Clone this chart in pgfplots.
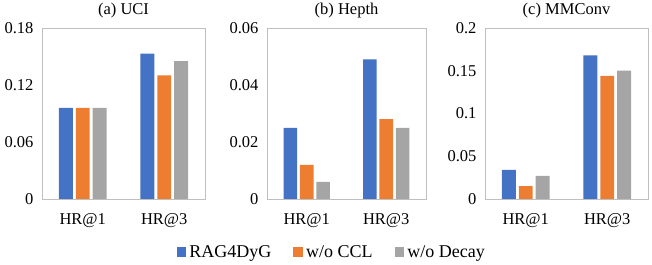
\documentclass[border=0pt]{standalone}
\usepackage{pgfplots}
\pgfplotsset{compat=1.18}
\usepackage{fontspec}
\setmainfont{Liberation Serif}
\definecolor{cblue}{HTML}{4472C4}
\definecolor{corange}{HTML}{ED7D31}
\definecolor{cgray}{HTML}{A5A5A5}
\definecolor{cframe}{HTML}{BFBFBF}
\pgfplotsset{
  myaxis/.style={
    scale only axis,
    height=171bp,
    ymin=0,
    xmin=-0.5, xmax=1.5,
    xtick={0,1}, xticklabels={HR@1,HR@3},
    scaled y ticks=false,
    axis line style={cframe, line width=0.9bp},
    major tick length=0pt,
    tick style={draw=none},
    ybar, bar width=0.17,
    font=\fontsize{16.5bp}{19bp}\selectfont,
    tick label style={font=\fontsize{16.5bp}{19bp}\selectfont},
    yticklabel style={xshift=-5bp},
    xticklabel style={yshift=-11bp},
    title style={font=\fontsize{16.5bp}{19bp}\selectfont},
    every axis plot/.append style={draw=none},
    anchor=south west,
  },
}
\begin{document}
\begin{tikzpicture}
\useasboundingbox (0,0) rectangle (652bp,265bp);
% (a) UCI
\begin{axis}[myaxis, at={(42bp,66bp)}, width=163bp, title={(a) UCI},
  ymax=0.18, ytick={0,0.06,0.12,0.18}, yticklabels={0,0.06,0.12,0.18}]
\addplot[fill=cblue, bar shift=-0.207] coordinates {(0,0.096) (1,0.153)};
\addplot[fill=corange, bar shift=0] coordinates {(0,0.096) (1,0.130)};
\addplot[fill=cgray, bar shift=0.207] coordinates {(0,0.096) (1,0.145)};
\end{axis}
% (b) Hepth
\begin{axis}[myaxis, at={(267bp,66bp)}, width=159bp, title={(b) Hepth},
  ymax=0.06, ytick={0,0.02,0.04,0.06}, yticklabels={0,0.02,0.04,0.06},
  legend columns=3,
  legend style={at={(0.407,-0.31)}, anchor=center, draw=none, fill=none,
    font=\fontsize{18bp}{20bp}\selectfont,
    /tikz/every odd column/.append style={column sep=1.5bp},
    /tikz/every even column/.append style={column sep=20bp},
    inner sep=0pt, outer sep=0pt},
  legend image code/.code={\fill[#1] (0bp,-4.7bp) rectangle (9.3bp,4.7bp);},
  legend cell align=left]
\addplot[fill=cblue, bar shift=-0.207] coordinates {(0,0.025) (1,0.049)};
\addplot[fill=corange, bar shift=0] coordinates {(0,0.012) (1,0.028)};
\addplot[fill=cgray, bar shift=0.207] coordinates {(0,0.006) (1,0.025)};
\legend{RAG4DyG, w/o CCL, w/o Decay}
\end{axis}
% (c) MMConv
\begin{axis}[myaxis, at={(485bp,66bp)}, width=163bp, title={(c) MMConv},
  ymax=0.2, ytick={0,0.05,0.1,0.15,0.2}, yticklabels={0,0.05,0.1,0.15,0.2}]
\addplot[fill=cblue, bar shift=-0.207] coordinates {(0,0.034) (1,0.168)};
\addplot[fill=corange, bar shift=0] coordinates {(0,0.015) (1,0.144)};
\addplot[fill=cgray, bar shift=0.207] coordinates {(0,0.027) (1,0.150)};
\end{axis}
\end{tikzpicture}
\end{document}
